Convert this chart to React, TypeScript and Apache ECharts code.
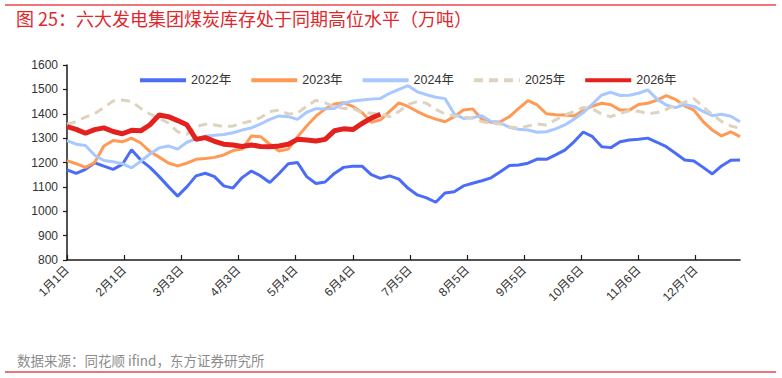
import React, { useEffect, useRef } from "react";
import * as echarts from "echarts";

// x-axis categories: every day of a leap year (labels shown every 31 days)
const categories: string[] = (() => {
  const out: string[] = [];
  const d = new Date(2024, 0, 1);
  for (let i = 0; i < 366; i++) {
    out.push(`${d.getMonth() + 1}月${d.getDate()}日`);
    d.setDate(d.getDate() + 1);
  }
  return out;
})();

// sampling days (index into categories) at which values were read
const sampleDays: number[] = [];
for (let i = 0; i <= 365; i += 5) sampleDays.push(i);

const seriesNames = ["2022年", "2023年", "2024年", "2025年", "2026年"];

const v2022 = [
  1170, 1155, 1172, 1199, 1185, 1172, 1192, 1252, 1210, 1180, 1142, 1101, 1062, 1100, 1145, 1156,
  1142, 1104, 1095, 1138, 1165, 1145, 1118, 1155, 1195, 1200, 1142, 1114, 1120, 1155, 1180, 1185,
  1185, 1150, 1135, 1145, 1132, 1094, 1067, 1055, 1037, 1075, 1080, 1104, 1115, 1125, 1137, 1162,
  1188, 1190, 1197, 1214, 1213, 1231, 1251, 1285, 1325, 1306, 1265, 1261, 1285, 1292, 1295, 1300,
  1283, 1265, 1238, 1210, 1206, 1180, 1153, 1186, 1209, 1210,
];
const v2023 = [
  1208, 1195, 1180, 1200, 1268, 1290, 1285, 1300, 1280, 1245, 1222, 1198, 1186, 1197, 1213, 1216,
  1221, 1231, 1249, 1255, 1309, 1306, 1275, 1247, 1255, 1305, 1350, 1390, 1420, 1440, 1445, 1430,
  1405, 1365, 1375, 1410, 1445, 1430, 1409, 1391, 1378, 1367, 1388, 1415, 1420, 1377, 1365, 1367,
  1388, 1422, 1454, 1436, 1400, 1396, 1395, 1391, 1413, 1432, 1443, 1437, 1415, 1415, 1438, 1443,
  1456, 1474, 1459, 1432, 1415, 1368, 1333, 1309, 1326, 1306,
];
const v2024 = [
  1290, 1275, 1270, 1230, 1208, 1203, 1195, 1178, 1205, 1235, 1260, 1268, 1255, 1283, 1297, 1308,
  1312, 1315, 1322, 1333, 1342, 1358, 1377, 1391, 1388, 1377, 1406, 1421, 1420, 1422, 1443, 1452,
  1456, 1460, 1463, 1484, 1500, 1515, 1490, 1478, 1468, 1462, 1400, 1381, 1384, 1392, 1368, 1363,
  1344, 1336, 1333, 1324, 1326, 1338, 1354, 1378, 1405, 1440, 1477, 1488, 1475, 1476, 1484, 1498,
  1460, 1436, 1425, 1438, 1430, 1410, 1392, 1398, 1390, 1367,
];
const v2025 = [
  1357, 1368, 1386, 1400, 1425, 1452, 1456, 1450, 1422, 1399, 1381, 1362, 1326, 1316, 1347, 1357,
  1354, 1347, 1350, 1361, 1370, 1384, 1409, 1415, 1399, 1402, 1432, 1455, 1445, 1429, 1422, 1422,
  1404, 1402, 1399, 1388, 1409, 1438, 1450, 1443, 1418, 1399, 1391, 1388, 1381, 1368, 1361, 1358,
  1347, 1340, 1350, 1358, 1354, 1375, 1395, 1409, 1426, 1420, 1398, 1388, 1402, 1412, 1410, 1400,
  1405, 1418, 1435, 1448, 1462, 1429, 1397, 1368, 1350, 1340,
];
const v2026 = [
  1347, 1336, 1320, 1335, 1342, 1327, 1318, 1332, 1330, 1355, 1395, 1388, 1372, 1355, 1295, 1302,
  1287, 1275, 1272, 1266, 1272, 1266, 1265, 1268, 1275, 1295, 1292, 1288, 1295, 1330, 1338, 1335,
  1360, 1382, 1398,
];

const yTicks = { min: 800, max: 1600, interval: 100 };

const colors = ["#4A6CF7", "#FF9A55", "#A8C8FF", "#DDD3BF", "#E3211F"];
const widths = [3, 3, 3, 3, 5];

const toPairs = (vals: number[]) => vals.map((v, i) => [sampleDays[i], v]);

const FONT = "'Liberation Sans', 'Noto Sans CJK SC', sans-serif";

export default function App() {
  const ref = useRef<HTMLDivElement>(null);
  useEffect(() => {
    if (!ref.current) return;
    const chart = echarts.init(ref.current, undefined, { renderer: "svg" });
    const all = [v2022, v2023, v2024, v2025, v2026];
    chart.setOption({
      animation: false,
      backgroundColor: "#fff",
      textStyle: { fontFamily: FONT },
      grid: { left: 67, right: 42, top: 65, bottom: 118, containLabel: false },
      legend: {
        data: seriesNames,
        left: 133,
        top: 69,
        itemWidth: 46,
        itemHeight: 14,
        itemGap: 18,
        lineStyle: { width: 4 },
        itemStyle: { opacity: 0 },
        textStyle: { fontSize: 12.5, color: "#333", fontFamily: FONT },
      },
      xAxis: {
        type: "category",
        data: categories,
        boundaryGap: false,
        axisLine: { show: true, lineStyle: { color: "#1a1a1a", width: 1.5 } },
        axisTick: { show: true, inside: true, length: 5, interval: 30, lineStyle: { color: "#1a1a1a", width: 1.2 } },
        axisLabel: { interval: 30, rotate: 45, fontSize: 12, color: "#333", margin: 8, fontFamily: FONT },
        splitLine: { show: false },
      },
      yAxis: {
        type: "value",
        min: yTicks.min,
        max: yTicks.max,
        interval: yTicks.interval,
        axisLine: { show: true, lineStyle: { color: "#1a1a1a", width: 1.5 } },
        axisTick: { show: true, length: 4, lineStyle: { color: "#1a1a1a", width: 1.2 } },
        axisLabel: {
          fontSize: 12,
          color: "#333",
          margin: 9,
          fontFamily: FONT,
          formatter: (v: number) => String(v),
        },
        splitLine: { show: false },
      },
      series: all.map((vals, i) => ({
        name: seriesNames[i],
        type: "line",
        data: toPairs(vals),
        symbol: "none",
        showSymbol: false,
        smooth: false,
        z: 2 + i,
        lineStyle: {
          color: colors[i],
          width: widths[i],
          type: i === 3 ? [9, 6] : "solid",
        },
        itemStyle: { color: colors[i] },
      })),
      graphic: [
        { type: "line", shape: { x1: 5, y1: 5, x2: 776, y2: 5 }, style: { stroke: "#E8474A", lineWidth: 1.5 } },
        {
          type: "text",
          left: 16,
          top: 9,
          style: {
            text: "图 25：六大发电集团煤炭库存处于同期高位水平（万吨）",
            fill: "#E0282C",
            fontSize: 18,
            fontFamily: "'Noto Sans CJK SC', sans-serif",
          },
        },
        {
          type: "text",
          left: 17,
          top: 353,
          style: {
            text: "数据来源：同花顺 ifind，东方证券研究所",
            fill: "#8C8C8C",
            fontSize: 13.5,
            fontFamily: "'Noto Sans CJK SC', sans-serif",
          },
        },
        { type: "line", shape: { x1: 5, y1: 372, x2: 776, y2: 372 }, style: { stroke: "#E8474A", lineWidth: 1.5 } },
      ],
    });
    return () => chart.dispose();
  }, []);
  return (
    <div
      ref={ref}
      style={{ position: "fixed", left: 0, top: 0, width: 782, height: 378, background: "#fff" }}
    />
  );
}
